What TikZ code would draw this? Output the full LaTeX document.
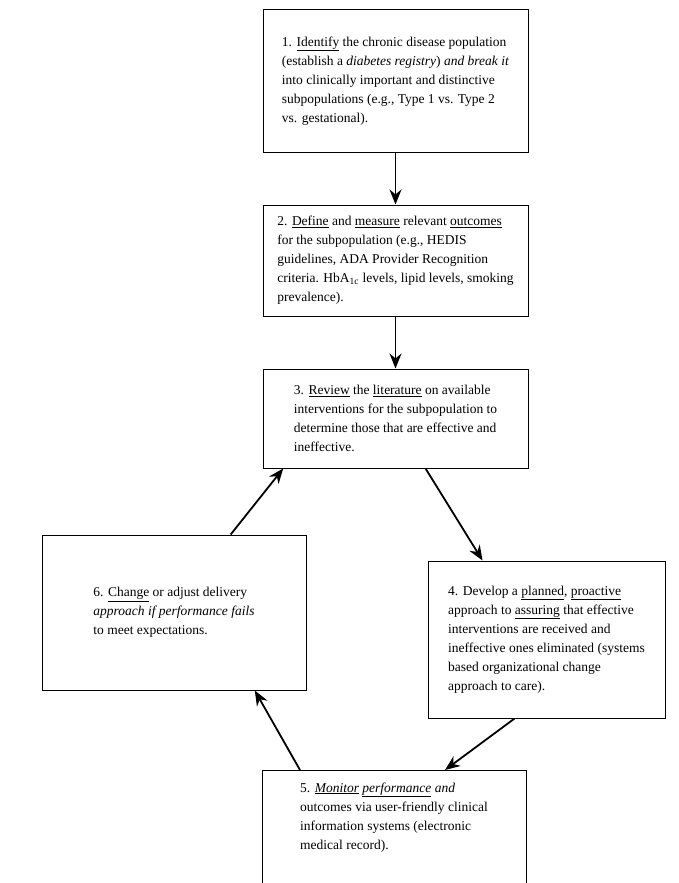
\documentclass[tikz,border=0pt]{standalone}
\usepackage{fontspec}
\setmainfont{Liberation Serif}
\usepackage{tikz}
\usetikzlibrary{arrows.meta,positioning}

\begin{document}
\begin{tikzpicture}[x=1pt,y=-1pt,node distance=52pt,
 every node/.style={font=\fontsize{13.5}{19}\selectfont},
 box/.style={draw,line width=1pt,minimum width=265pt,align=left,inner sep=10pt},
 arr/.style={-{Stealth[length=15pt,width=12pt]},line width=1.8pt}]
\clip (0,0) rectangle (679,883);
\node[box,minimum height=142pt] (box1) at (395.5,81) {1. \underline{Identify} the chronic disease population\\
 (establish a \textit{diabetes registry}) \textit{and break it}\\
 into clinically important and distinctive\\
 subpopulations (e.g., Type 1 vs. Type 2\\
 vs. gestational).};
\node[box,minimum height=111pt,below=of box1] (box2) {2. \underline{Define} and \underline{measure} relevant \underline{outcomes}\\
 for the subpopulation (e.g., HEDIS\\
 guidelines, ADA Provider Recognition\\
 criteria. HbA\textsubscript{1c} levels, lipid levels, smoking\\
 prevalence).};
\node[box,minimum height=99pt,below=of box2] (box3) {3. \underline{Review} the \underline{literature} on available\\
 interventions for the subpopulation to\\
 determine those that are effective and\\
 ineffective.};
\node[box,minimum width=237pt,minimum height=157pt,inner xsep=6pt] (box4) at (546.5,639.5) {4. Develop a \underline{planned}, \underline{proactive}\\
 approach to \underline{assuring} that effective\\
 interventions are received and\\
 ineffective ones eliminated (systems\\
 based organizational change\\
 approach to care).};
\node[box,minimum width=264pt,minimum height=155pt] (box6) at (174,612.5) {6. \underline{Change} or adjust delivery\\
 \textit{approach if performance fails}\\
 to meet expectations.};
% bottom box runs off the page
\node[box,minimum width=264pt,anchor=north,inner ysep=12pt] (box5) at (394,770) {5. \textit{\underline{Monitor} \underline{performance} and}\\
 outcomes via user-friendly clinical\\
 information systems (electronic\\
 medical record).\\[60pt]\mbox{}};
\draw[arr] (box1)--(box2); \draw[arr] (box2)--(box3);
\draw[arr] (box3.-59)--(box4.129); \draw[arr] (box4.-112)--([xshift=51pt]box5.north);
\draw[arr] ([xshift=-94pt]box5.north)--(box6.-44.5); \draw[arr] (box6.54)--(box3.-156);
\end{tikzpicture}
\end{document}
